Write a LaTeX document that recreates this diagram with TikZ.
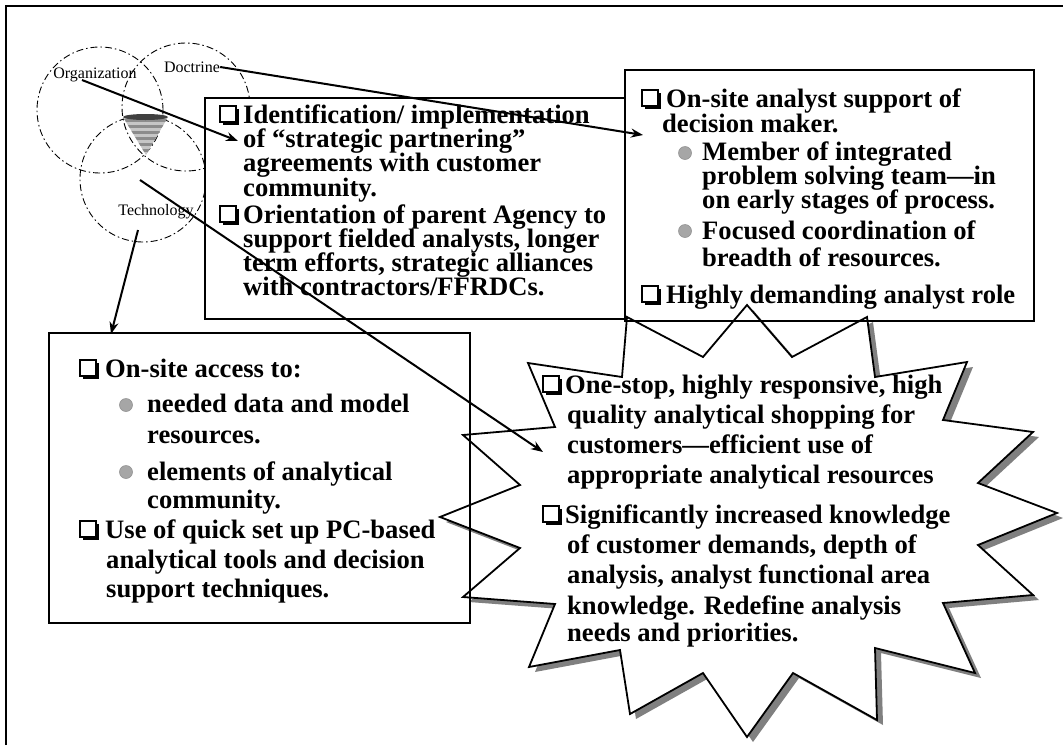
\documentclass[tikz,border=0pt]{standalone}
\usepackage{fontspec}
\setmainfont{Liberation Serif}
\usetikzlibrary{arrows.meta}
\newcommand\cbx[2]{%
  \fill (#1+2.5,#2-14.5) rectangle (#1+18.5,#2+1.5);
  \filldraw[fill=white,line width=1.1pt] (#1,#2-17) rectangle (#1+16,#2-1);}
\begin{document}
\begin{tikzpicture}[x=1pt,y=-1pt,
  ln/.style={font=\fontsize{26.6}{26.6}\selectfont\bfseries, anchor=base west, inner sep=0pt,
    text height=17.5pt, text depth=4.5pt},
  venn/.style={draw, line width=0.9pt, dash pattern=on 7pt off 3pt on 1.5pt off 3pt},
  vlab/.style={font=\fontsize{16}{16}\selectfont, inner sep=0pt},
  boxr/.style={draw, line width=1.8pt, rectangle, anchor=north west, inner sep=0pt},
  arr/.style={line width=2pt, -{Stealth[length=12pt,width=9pt]}},
  bul/.style={circle, fill=gray!70, draw=gray!85, line width=0.6pt, minimum size=13pt, inner sep=0pt},
]
\useasboundingbox (0,0) rectangle (1063,745);
% frame
\draw[line width=2pt] (6,745) -- (6,6) -- (1063,6);

% Venn diagram
\draw[venn] (100,110) circle (63pt);
\draw[venn] (186,107) circle (64pt);
\draw[venn] (143,179) circle (63pt);
\node[vlab] (org) at (95,75) {Organization};
\node[vlab] (doc) at (192,67) {Doctrine};
\node[vlab] (tech) at (156,212) {Technology};
% funnel
\begin{scope}
  \clip (123,117) -- (168,117) -- (146,155) -- cycle;
  \fill[gray!45] (120,110) rectangle (170,160);
  \foreach \yy in {119,125,131,137,143,149} \fill[gray!90] (120,\yy) rectangle (170,\yy+3);
\end{scope}
\fill[black!75] (145.5,117) ellipse (22.5pt and 3pt);

% box 1
\node[boxr, fill=white, minimum width=420pt, minimum height=221pt] (b1) at (204,97) {};
\cbx{220}{123}
\node[ln] (t11) at (243,123) {Identification/ implementation};
\node[ln] (t12) at (243,147) {of “strategic partnering”};
\node[ln] (t13) at (243,171) {agreements with customer};
\node[ln] (t14) at (243,196) {community.};
\cbx{220}{223}
\node[ln] (t15) at (243,223) {Orientation of parent Agency to};
\node[ln] (t16) at (243,247) {support fielded analysts, longer};
\node[ln] (t17) at (243,271) {term efforts, strategic alliances};
\node[ln] (t18) at (243,295) {with contractors/FFRDCs.};

% starburst with shadow
\begin{scope}[shift={(6,5)}]
\fill[black!50] (627,317) -- (703,357) -- (747,305) -- (792,357) -- (867,317) -- (875,377) -- (967,362) -- (943,420) -- (1033,432) -- (978,483) -- (1057,513) -- (978,545) -- (1033,595) -- (943,603) -- (975,673) -- (875,648) -- (877,720) -- (793,673) -- (747,737) -- (703,673) -- (630,714) -- (620,650) -- (529,667) -- (555,604) -- (463,597) -- (520,548) -- (440,517) -- (520,485) -- (463,435) -- (555,427) -- (528,363) -- (622,377) -- cycle;
\end{scope}
\filldraw[fill=white, line width=1.8pt, line join=miter] (627,317) -- (703,357) -- (747,305) -- (792,357) -- (867,317) -- (875,377) -- (967,362) -- (943,420) -- (1033,432) -- (978,483) -- (1057,513) -- (978,545) -- (1033,595) -- (943,603) -- (975,673) -- (875,648) -- (877,720) -- (793,673) -- (747,737) -- (703,673) -- (630,714) -- (620,650) -- (529,667) -- (555,604) -- (463,597) -- (520,548) -- (440,517) -- (520,485) -- (463,435) -- (555,427) -- (528,363) -- (622,377) -- cycle;

% box 2
\node[boxr, minimum width=409pt, minimum height=251pt] (b2) at (624,69) {};
\cbx{642}{107}
\node[ln] (t21) at (666,107) {On-site analyst support of};
\node[ln] (t22) at (662,132) {decision maker.};
\node[bul] (d21) at (685,153) {};
\node[ln] (t23) at (702,160) {Member of integrated};
\node[ln] (t24) at (702,184) {problem solving team—in};
\node[ln] (t25) at (702,208) {on early stages of process.};
\node[bul] (d22) at (685,231) {};
\node[ln] (t26) at (702,239) {Focused coordination of};
\node[ln] (t27) at (702,266) {breadth of resources.};
\cbx{642}{303}
\node[ln] (t28) at (666,303) {Highly demanding analyst role};

% box 3
\node[boxr, minimum width=421pt, minimum height=290pt] (b3) at (48,332) {};
\cbx{80}{377}
\node[ln] (t31) at (105,377) {On-site access to:};
\node[bul] (d31) at (126,405) {};
\node[ln] (t32) at (147,412) {needed data and model};
\node[ln] (t33) at (147,443) {resources.};
\node[bul] (d32) at (126,472) {};
\node[ln] (t34) at (147,480) {elements of analytical};
\node[ln] (t35) at (147,508) {community.};
\cbx{80}{538}
\node[ln] (t36) at (105,538) {Use of quick set up PC-based};
\node[ln] (t37) at (106,568) {analytical tools and decision};
\node[ln] (t38) at (106,597) {support techniques.};

% star text
\cbx{543}{393}
\node[ln] (s1) at (565,393) {One-stop, highly responsive, high};
\node[ln] (s2) at (567,423) {quality analytical shopping for};
\node[ln] (s3) at (567,453) {customers—efficient use of};
\node[ln] (s4) at (567,483) {appropriate analytical resources};
\cbx{543}{523}
\node[ln] (s5) at (565,523) {Significantly increased knowledge};
\node[ln] (s6) at (567,553) {of customer demands, depth of};
\node[ln] (s7) at (567,583) {analysis, analyst functional area};
\node[ln] (s8) at (567,614) {knowledge. Redefine analysis};
\node[ln] (s9) at (567,641) {needs and priorities.};

% connectors
\coordinate (orgS) at (82,80);
\coordinate (b1in) at (238,141);
\coordinate (b2in) at (643,135);
\coordinate (techS) at (140,180);
\coordinate (starin) at (543,452);
\coordinate (techS2) at (138,230);
\coordinate (b3in) at (111,334);
\draw[arr] (orgS) -- (b1in);
\draw[arr] (doc.east) -- (b2in);
\draw[arr] (techS) -- (starin);
\draw[arr] (techS2) -- (b3in);
\end{tikzpicture}
\end{document}
